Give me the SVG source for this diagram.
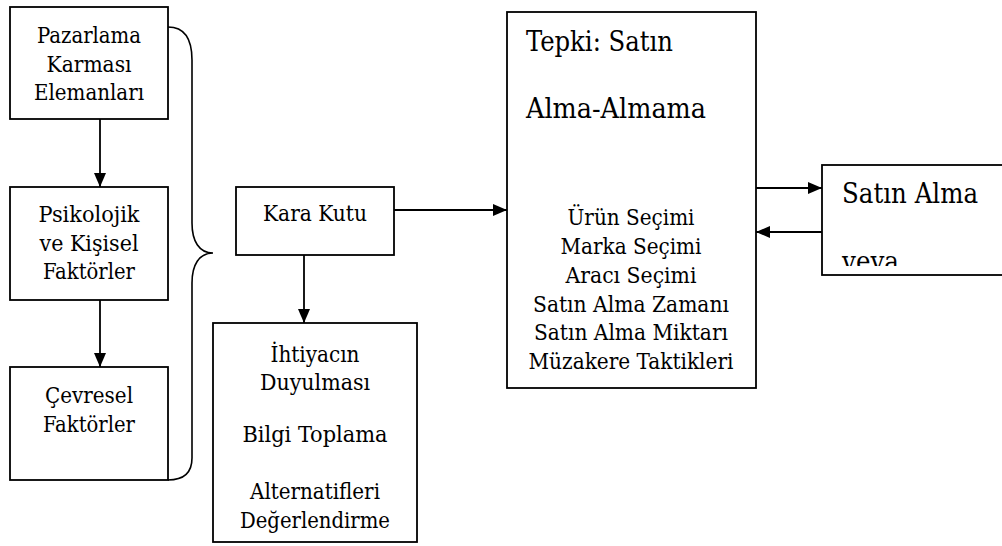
<svg xmlns="http://www.w3.org/2000/svg" width="1002" height="546" viewBox="0 0 1002 546">
  <style>
    .box { fill: #ffffff; stroke: #000000; stroke-width: 1.8; }
    .link { fill: none; stroke: #000000; stroke-width: 1.8; }
    .brace { fill: none; stroke: #000000; stroke-width: 1.6; }
    .t { font-family: 'DejaVu Serif', 'Liberation Serif', serif; font-stretch: condensed; font-size: 23px; fill: #000000; }
    .c { text-anchor: middle; }
    .big { font-size: 27.5px; }
  </style>
  <defs>
    <marker id="arrow" markerUnits="userSpaceOnUse" markerWidth="14" markerHeight="12" refX="14" refY="6" orient="auto">
      <path d="M0,0 L14,6 L0,12 z" fill="#000000"/>
    </marker>
    <clipPath id="purchaseClip">
      <rect x="822" y="165" width="180" height="101"/>
    </clipPath>
  </defs>
  <rect width="1002" height="546" fill="#ffffff"/>

  <!-- connectors -->
  <g id="connectors">
    <line class="link" x1="100" y1="119" x2="100" y2="187" marker-end="url(#arrow)"/>
    <line class="link" x1="100" y1="300" x2="100" y2="367" marker-end="url(#arrow)"/>
    <line class="link" x1="394" y1="210" x2="507" y2="210" marker-end="url(#arrow)"/>
    <line class="link" x1="304" y1="255" x2="304" y2="323" marker-end="url(#arrow)"/>
    <line class="link" x1="756" y1="188" x2="822" y2="188" marker-end="url(#arrow)"/>
    <line class="link" x1="822" y1="232" x2="756" y2="232" marker-end="url(#arrow)"/>
    <!-- curly brace grouping the three factor boxes -->
    <path class="brace" d="M168,27 C185,27 192,40 192,60 L192,223 C192,241 199,253 213,253 C199,253 192,265 192,283 L192,458 C192,472 185,480 168,480"/>
  </g>

  <g id="node-pazarlama">
    <rect class="box" x="10" y="7" width="158" height="112"/>
    <text class="t c" x="89" y="43" textLength="104" lengthAdjust="spacingAndGlyphs">Pazarlama</text>
    <text class="t c" x="89" y="71.5" textLength="85" lengthAdjust="spacingAndGlyphs">Karması</text>
    <text class="t c" x="89" y="100" textLength="110" lengthAdjust="spacingAndGlyphs">Elemanları</text>
  </g>

  <g id="node-psikolojik">
    <rect class="box" x="10" y="187" width="158" height="113"/>
    <text class="t c" x="89" y="222" textLength="101" lengthAdjust="spacingAndGlyphs">Psikolojik</text>
    <text class="t c" x="89" y="250.5" textLength="99" lengthAdjust="spacingAndGlyphs">ve Kişisel</text>
    <text class="t c" x="89" y="279" textLength="92" lengthAdjust="spacingAndGlyphs">Faktörler</text>
  </g>

  <g id="node-cevresel">
    <rect class="box" x="10" y="367" width="158" height="113"/>
    <text class="t c" x="89" y="403" textLength="88" lengthAdjust="spacingAndGlyphs">Çevresel</text>
    <text class="t c" x="89" y="432" textLength="92" lengthAdjust="spacingAndGlyphs">Faktörler</text>
  </g>

  <g id="node-karakutu">
    <rect class="box" x="236" y="187" width="158" height="68"/>
    <text class="t c" x="315" y="221" textLength="104" lengthAdjust="spacingAndGlyphs">Kara Kutu</text>
  </g>

  <g id="node-surec">
    <rect class="box" x="213" y="323" width="204" height="219"/>
    <text class="t c" x="315" y="362" textLength="89" lengthAdjust="spacingAndGlyphs">İhtiyacın</text>
    <text class="t c" x="315" y="390" textLength="110" lengthAdjust="spacingAndGlyphs">Duyulması</text>
    <text class="t c" x="315" y="442" textLength="145" lengthAdjust="spacingAndGlyphs">Bilgi Toplama</text>
    <text class="t c" x="315" y="499" textLength="130" lengthAdjust="spacingAndGlyphs">Alternatifleri</text>
    <text class="t c" x="315" y="528" textLength="150" lengthAdjust="spacingAndGlyphs">Değerlendirme</text>
  </g>

  <g id="node-tepki">
    <rect class="box" x="507" y="12" width="249" height="376"/>
    <text class="t big" x="526" y="51" textLength="147" lengthAdjust="spacingAndGlyphs">Tepki: Satın</text>
    <text class="t big" x="526" y="118" textLength="180" lengthAdjust="spacingAndGlyphs">Alma-Almama</text>
    <text class="t c" x="631" y="225" textLength="127" lengthAdjust="spacingAndGlyphs">Ürün Seçimi</text>
    <text class="t c" x="631" y="254" textLength="141" lengthAdjust="spacingAndGlyphs">Marka Seçimi</text>
    <text class="t c" x="631" y="283" textLength="131" lengthAdjust="spacingAndGlyphs">Aracı Seçimi</text>
    <text class="t c" x="631" y="312" textLength="196" lengthAdjust="spacingAndGlyphs">Satın Alma Zamanı</text>
    <text class="t c" x="631" y="340" textLength="194" lengthAdjust="spacingAndGlyphs">Satın Alma Miktarı</text>
    <text class="t c" x="631" y="369" textLength="205" lengthAdjust="spacingAndGlyphs">Müzakere Taktikleri</text>
  </g>

  <g id="node-satinalma">
    <rect class="box" x="822" y="165" width="190" height="110"/>
    <g clip-path="url(#purchaseClip)">
      <text class="t big" x="842" y="203" textLength="136" lengthAdjust="spacingAndGlyphs">Satın Alma</text>
      <text class="t big" x="842" y="271" textLength="57" lengthAdjust="spacingAndGlyphs">veya</text>
    </g>
  </g>
</svg>
